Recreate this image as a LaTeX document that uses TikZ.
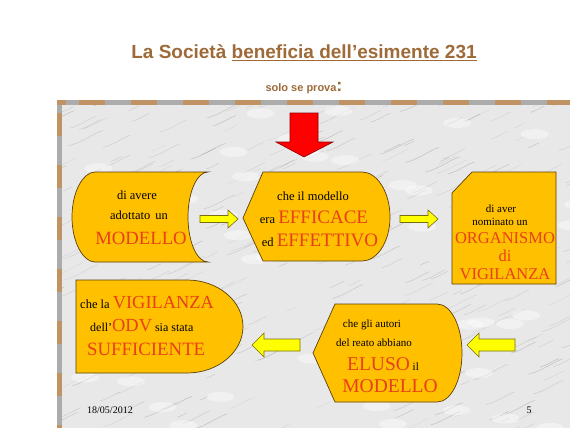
\documentclass[tikz,border=0pt]{standalone}
\usepackage{fontspec}
\setmainfont{Liberation Serif}
\setsansfont{Liberation Sans}
\definecolor{titlebrown}{RGB}{158,106,56}
\definecolor{boxfill}{RGB}{255,192,0}
\definecolor{boxline}{RGB}{90,64,10}
\definecolor{bigred}{RGB}{232,64,24}
\definecolor{marble}{RGB}{232,232,232}
\definecolor{streak}{RGB}{150,150,150}
\definecolor{borderbrown}{RGB}{192,146,100}
\definecolor{bordergray}{RGB}{172,172,172}
\definecolor{arrowyellow}{RGB}{255,255,0}
\definecolor{arrowline}{RGB}{120,110,20}
\tikzset{
  box/.style={fill=boxfill, draw=boxline, line width=0.7pt},
  yarrow/.style={fill=arrowyellow, draw=arrowline, line width=0.6pt},
  small/.style={font=\fontsize{12.5}{14}\selectfont, inner sep=0pt},
  smaller/.style={font=\fontsize{11}{13}\selectfont, inner sep=0pt},
}
\newcommand{\bigword}[2]{{\fontsize{#1}{#1}\selectfont\color{bigred}#2}}
\begin{document}
\begin{tikzpicture}[x=1pt,y=-1pt]
\useasboundingbox (0,0) rectangle (570,428);
\fill[white] (0,0) rectangle (570,428);
% marble panel
\fill[marble] (57,100) rectangle (570,428);
\begin{scope}
\clip (62,105) rectangle (570,428);
\pgfmathsetseed{11}
\foreach \i in {1,...,320}{
  \pgfmathsetmacro{\xa}{40+rnd*540}
  \pgfmathsetmacro{\ya}{105+rnd*330}
  \pgfmathsetmacro{\len}{8+rnd*28}
  \pgfmathsetmacro{\op}{0.15+rnd*0.35}
  \draw[streak, opacity=\op, line width=0.5pt] (\xa,\ya) .. controls ++(\len*0.4,-\len*0.1) and ++(-\len*0.3,\len*0.1) .. ++(\len,-\len*0.45);
}
\foreach \i in {1,...,60}{
  \pgfmathsetmacro{\xa}{60+rnd*520}
  \pgfmathsetmacro{\ya}{105+rnd*330}
  \fill[white, opacity=0.4] (\xa,\ya) ellipse (14pt and 5pt);
}
\end{scope}
% dashed border
\draw[bordergray, line width=5pt] (57,102.5) -- (570,102.5);
\draw[borderbrown, line width=5pt, dash pattern=on 26pt off 26pt, dash phase=-22pt] (57,102.5) -- (570,102.5);
\draw[bordergray, line width=5pt] (59.5,100) -- (59.5,428);
\draw[borderbrown, line width=5pt, dash pattern=on 23pt off 29pt, dash phase=-13pt] (59.5,100) -- (59.5,428);
\fill[borderbrown] (57,100) rectangle (66,105);

% title
\node[font=\sffamily\bfseries\fontsize{19}{22}\selectfont, text=titlebrown, inner sep=0pt, anchor=base] (title) at (304,59)
  {La Società \underline{beneficia dell’esimente 231}};
\node[font=\sffamily\bfseries\fontsize{11}{12}\selectfont, text=titlebrown, inner sep=0pt, anchor=base] (sub) at (304,92)
  {solo se prova{\fontsize{18}{18}\selectfont:}};

% red arrow
\draw[fill=red, draw=red!55!black, line width=0.6pt] (290,113) -- (318,113) -- (318,142) -- (333,142)
  -- (304,157) -- (276,142) -- (290,142) -- cycle;

% box 1
\draw[box] (95,172) -- (208,172) .. controls (197,172) and (188,192) .. (188,217)
  .. controls (188,242) and (197,262) .. (208,262) -- (95,262)
  .. controls (83,262) and (72,242) .. (72,217) .. controls (72,192) and (83,172) .. (95,172) -- cycle;
\node[small, anchor=base] (b1a) at (137,199) {di avere};
\node[small, anchor=base] (b1b) at (139,219) {adottato\, un};
\node[inner sep=0pt, anchor=base] (b1c) at (141,244) {\bigword{18.7}{MODELLO}};

% box 2
\draw[box] (243,218) -- (263,172) -- (362,172) .. controls (377,172) and (390,192) .. (390,217)
  .. controls (390,242) and (377,261) .. (362,261) -- (263,261) -- cycle;
\node[small, anchor=base] (b2a) at (313,200) {che il modello};
\node[small, anchor=base] (b2b) at (314,223) {era \bigword{19}{EFFICACE}};
\node[small, anchor=base] (b2c) at (320,246) {ed \bigword{19}{EFFETTIVO}};

% box 3
\draw[box] (452,193) -- (472,172) -- (556,172) -- (556,284) -- (452,284) -- cycle;
\node[smaller, anchor=base] (b3a) at (501,212) {di aver};
\node[smaller, anchor=base] (b3b) at (500,225) {nominato un};
\node[inner sep=0pt, anchor=base] (b3c) at (505,243) {\bigword{16.5}{ORGANISMO}};
\node[inner sep=0pt, anchor=base] (b3d) at (505,261) {\bigword{16.5}{di}};
\node[inner sep=0pt, anchor=base] (b3e) at (505,279) {\bigword{16.5}{VIGILANZA}};

% box 4
\draw[box] (76,280) -- (187,280) .. controls (218,280) and (243,301) .. (243,326.5)
  .. controls (243,352) and (218,373) .. (187,373) -- (76,373) -- cycle;
\node[smaller, font=\fontsize{12.5}{14}\selectfont, anchor=base west] (b4a) at (80,308) {che la \bigword{18.4}{VIGILANZA}};
\node[smaller, font=\fontsize{12}{14}\selectfont, anchor=base west] (b4b) at (90,331) {dell’\bigword{18.4}{ODV} sia stata};
\node[inner sep=0pt, anchor=base west] (b4c) at (87,355) {\bigword{18.8}{SUFFICIENTE}};

% box 5
\draw[box] (313,353) -- (335,304) -- (437,304) .. controls (451,304) and (462,326) .. (462,353)
  .. controls (462,380) and (451,402) .. (437,402) -- (335,402) -- cycle;
\node[smaller, anchor=base] (b5a) at (372,327) {che gli autori};
\node[smaller, anchor=base] (b5b) at (374,346) {del reato abbiano};
\node[smaller, anchor=base] (b5c) at (383,370) {\bigword{19.5}{ELUSO} il};
\node[inner sep=0pt, anchor=base] (b5d) at (390,392) {\bigword{19.5}{MODELLO}};

% yellow block arrows
\draw[yarrow] (200,215.5) -- (228,215.5) -- (228,210) -- (238,219) -- (228,228) -- (228,222.5) -- (200,222.5) -- cycle;
\draw[yarrow] (400,215.5) -- (428,215.5) -- (428,210) -- (438,219) -- (428,228) -- (428,222.5) -- (400,222.5) -- cycle;
\draw[yarrow] (300,339) -- (264,339) -- (264,333) -- (252,345) -- (264,357) -- (264,351) -- (300,351) -- cycle;
\draw[yarrow] (515,339) -- (479,339) -- (479,333) -- (467,345) -- (479,357) -- (479,351) -- (515,351) -- cycle;

% footer
\node[font=\fontsize{10}{12}\selectfont, inner sep=0pt, anchor=base west] (date) at (87,413) {18/05/2012};
\node[font=\fontsize{10}{12}\selectfont, inner sep=0pt, anchor=base] (page) at (529,413) {5};
\end{tikzpicture}
\end{document}
